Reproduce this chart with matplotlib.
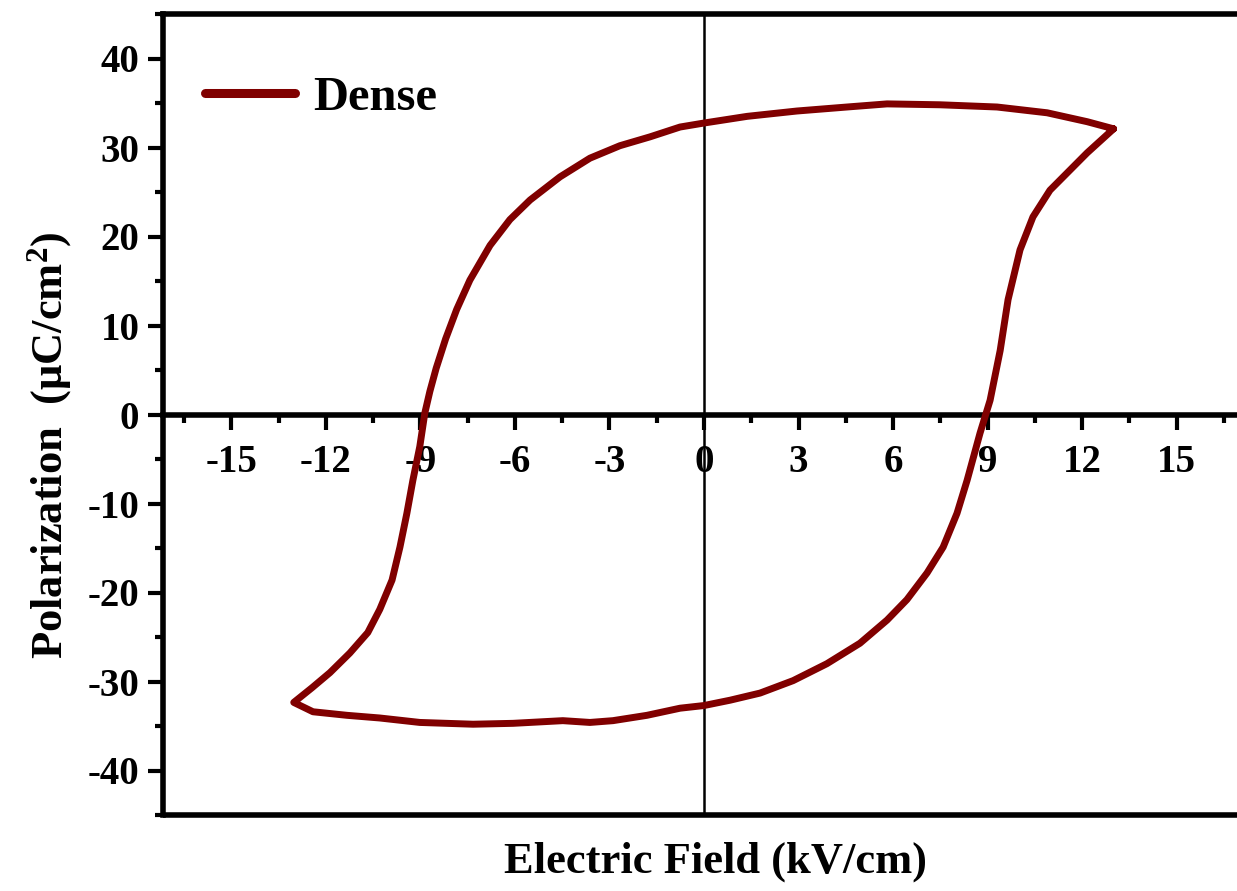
import numpy as np
import matplotlib
matplotlib.use("Agg")
import matplotlib.pyplot as plt
from matplotlib.ticker import MultipleLocator
from matplotlib.lines import Line2D

plt.rcParams['font.family'] = ['Liberation Serif', 'DejaVu Serif']
plt.rcParams['font.weight'] = 'bold'
plt.rcParams['mathtext.fontset'] = 'custom'
plt.rcParams['mathtext.rm'] = 'Liberation Serif:bold'
plt.rcParams['mathtext.bf'] = 'Liberation Serif:bold'
plt.rcParams['mathtext.it'] = 'Liberation Serif:bold'

# Upper (descending) branch: from +Emax tip to -Emax tip
E_down = [13.0, 12.16, 10.89, 9.30, 7.49, 5.81, 4.54, 2.95, 1.37, 0.0,
          -0.76, -1.71, -2.67, -3.62, -4.57, -5.52, -6.16, -6.79, -7.43,
          -7.85, -8.2, -8.5, -8.7, -8.86, -9.02, -9.24, -9.43, -9.65, -9.90,
          -10.29, -10.67, -11.24, -11.87, -12.44, -13.02]
P_down = [32.1, 32.9, 33.9, 34.55, 34.8, 34.9, 34.55, 34.1, 33.5, 32.75,
          32.3, 31.2, 30.2, 28.8, 26.7, 24.1, 21.9, 19.0, 15.1,
          11.8, 8.5, 5.2, 2.6, 0.17, -3.6, -7.4, -11.1, -14.9, -18.6,
          -21.9, -24.5, -26.8, -29.0, -30.7, -32.35]
# Lower (ascending) branch: from -Emax tip to +Emax tip
E_up = [-13.02, -12.41, -11.33, -10.29, -9.02, -7.33, -6.06, -4.48, -3.62, -2.89,
        -1.81, -0.76, 0.0, 0.83, 1.78, 2.83, 3.90, 4.95, 5.81, 6.44, 7.08, 7.59,
        8.03, 8.35, 8.76, 9.08, 9.40, 9.65, 10.03, 10.44, 10.98, 12.16, 13.0]
P_up = [-32.35, -33.4, -33.8, -34.1, -34.6, -34.8, -34.7, -34.4, -34.6, -34.4,
        -33.8, -33.0, -32.7, -32.1, -31.3, -29.9, -28.0, -25.7, -23.1, -20.8, -17.8, -14.9,
        -11.1, -7.4, -2.1, 1.6, 7.2, 12.9, 18.5, 22.2, 25.2, 29.4, 32.1]

x_major = [-15, -12, -9, -6, -3, 0, 3, 6, 9, 12, 15]
y_major = [-40, -30, -20, -10, 0, 10, 20, 30, 40]

color = '#800000'

fig = plt.figure(figsize=(12.37, 8.91), dpi=100)
W, H = 1237, 891
left_px, right_px, top_px, bot_px = 163, 1245, 14, 815
ax = fig.add_axes([left_px / W, 1 - bot_px / H, (right_px - left_px) / W, (bot_px - top_px) / H])

E = E_down + E_up[1:]
P = P_down + P_up[1:]
ax.plot(E, P, color=color, lw=5, solid_joinstyle='round', solid_capstyle='round', zorder=3)

ax.set_xlim(-17.17, 17.17)
ax.set_ylim(-45, 45)

spine_lw = 4
for s in ['left', 'top', 'bottom', 'right']:
    ax.spines[s].set_linewidth(spine_lw)
ax.spines['bottom'].set_position(('data', 0))
# bottom frame line
ax.plot([0, 1], [0, 0], transform=ax.transAxes, color='k', lw=spine_lw, clip_on=False,
        solid_capstyle='butt', zorder=4)
# vertical zero line
ax.axvline(0, color='k', lw=1.8, zorder=2)

ax.xaxis.set_minor_locator(MultipleLocator(1.5))
ax.yaxis.set_minor_locator(MultipleLocator(5))
ax.set_xticks(x_major)
ax.set_xticklabels([str(v) for v in x_major])
ax.set_yticks(y_major)
ax.set_yticklabels([str(v) for v in y_major])

ax.tick_params(axis='both', which='major', direction='out', length=11, width=3, labelsize=28)
ax.tick_params(axis='both', which='minor', direction='out', length=6, width=3)
ax.tick_params(axis='x', which='both', top=False, bottom=True, pad=10)
ax.tick_params(axis='y', which='both', right=False, left=True, pad=6)
for lab in ax.get_xticklabels() + ax.get_yticklabels():
    lab.set_fontweight('bold')

handle = Line2D([], [], color=color, lw=6.5, solid_capstyle='round')
leg = ax.legend([handle], ['Dense'], loc='center left',
                bbox_to_anchor=((205 - left_px) / (right_px - left_px), (bot_px - 98) / (bot_px - top_px)),
                frameon=False, borderpad=0, borderaxespad=0, handlelength=1.85, handletextpad=0.38,
                prop={'family': 'Liberation Serif', 'weight': 'bold', 'size': 35})

fig.text(716 / W, 1 - 862 / H, 'Electric Field (kV/cm)', ha='center', va='center',
         fontsize=32, fontweight='bold')
fig.text(50 / W, 1 - 445 / H, r'Polarization  (μC/cm$^{2}$)', ha='center', va='center',
         rotation=90, fontsize=32, fontweight='bold')

fig.savefig('out.png', dpi=100)
